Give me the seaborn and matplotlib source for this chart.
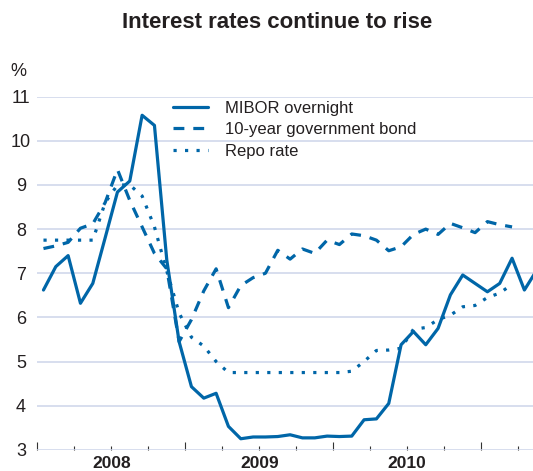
import numpy as np
import pandas as pd
import matplotlib
matplotlib.use("Agg")
import matplotlib.pyplot as plt
import matplotlib.transforms as mtransforms
import seaborn as sns

# Datos mensuales desde enero 2008 (indice de mes 0 = ene 2008)
mibor = [6.62, 7.15, 7.40, 6.32, 6.77, 7.80, 8.84, 9.09, 10.58, 10.35,
         7.30, 5.45, 4.43, 4.17, 4.28, 3.53, 3.25, 3.29, 3.29, 3.30,
         3.34, 3.27, 3.27, 3.31, 3.30, 3.31, 3.68, 3.70, 4.05, 5.38,
         5.68, 5.38, 5.75, 6.51, 6.96, 6.77, 6.58, 6.77, 7.34, 6.62, 7.07]
bono10 = [7.56, 7.62, 7.70, 8.02, 8.12, 8.60, 9.35, 8.65, 8.05, 7.45,
          7.10, 5.45, 5.95, 6.60, 7.10, 6.22, 6.72, 6.90, 7.00, 7.52,
          7.32, 7.55, 7.45, 7.75, 7.65, 7.89, 7.85, 7.75, 7.51, 7.60,
          7.88, 8.00, 7.88, 8.13, 8.03, 7.92, 8.17, 8.10, 8.05]
repo = [7.75, 7.75, 7.75, 7.75, 7.75, 8.60, 9.00, 9.00, 8.75, 8.05,
        7.05, 6.10, 5.55, 5.35, 5.00, 4.75, 4.75, 4.75, 4.75, 4.75,
        4.75, 4.75, 4.75, 4.75, 4.75, 4.78, 5.00, 5.25, 5.26, 5.30,
        5.73, 5.77, 5.95, 6.05, 6.24, 6.27, 6.45, 6.55, 6.75]
etiquetas = ["MIBOR overnight", "10-year government bond", "Repo rate"]
anios = ["2008", "2009", "2010"]
yticks = list(range(3, 12))

azul = "#0066a8"
gris_grid = "#cdd5ea"
texto = "#231f20"

sns.set_style("white")
plt.rcParams["font.family"] = ["Liberation Sans", "DejaVu Sans"]

fig = plt.figure(figsize=(5.33, 4.71), dpi=100)
W, H = 533, 471
ax = fig.add_axes([37.3 / W, 21 / H, (W - 37.3) / W + 0.01, 353.5 / H])

lw = 2.3
series = [(mibor, "-"), (bono10, (0, (3.4, 2.8))), (repo, (0, (1.0, 2.6)))]
handles = []
for (vals, ls), lab in zip(series, etiquetas):
    df = pd.DataFrame({"mes": np.arange(len(vals)) + 0.5, "valor": vals})
    sns.lineplot(data=df, x="mes", y="valor", ax=ax, color=azul, lw=lw,
                 linestyle=ls, label=lab, legend=False)

ax.set_xlim(0, 40.63)
ax.set_ylim(2.995, 11.005)
ax.set_yticks(yticks)
ax.set_xticks([0, 12, 24, 36])
ax.set_xticks([3, 6, 9, 15, 18, 21, 27, 30, 33, 39], minor=True)
ax.set_xticklabels([])
ax.set_xlabel("")
ax.set_ylabel("")
ax.grid(axis="y", color=gris_grid, lw=1.1)
ax.set_axisbelow(True)
for s in ax.spines.values():
    s.set_visible(False)

ax.tick_params(axis="y", length=0, pad=11.7, labelsize=13, labelcolor=texto)
for t in ax.get_yticklabels():
    t.set_horizontalalignment("center")
ax.tick_params(axis="x", which="major", direction="in", length=6, width=0.8,
               color="#333333", bottom=True)
ax.tick_params(axis="x", which="minor", direction="in", length=3, width=0.8,
               color="#333333", bottom=True)

trans = mtransforms.blended_transform_factory(ax.transData, ax.transAxes)
for i, a in enumerate(anios):
    ax.text(6 + 12 * i, -0.037, a, transform=trans, ha="center", va="center",
            fontsize=12.5, fontweight="bold", color=texto)

fig.text(18 / W, 1 - 72 / H, "%", ha="center", va="center", fontsize=13,
         color=texto)
fig.text(277 / W, 1 - 23 / H, "Interest rates continue to rise", ha="center",
         va="center", fontsize=16, fontweight="bold", color=texto)

leg = ax.legend(loc="upper left", bbox_to_anchor=(173 / W, 1 - 101 / H),
                bbox_transform=fig.transFigure, frameon=False, fontsize=12,
                handlelength=2.1, handletextpad=1.0, labelspacing=0.38,
                borderpad=0, borderaxespad=0)
for t in leg.get_texts():
    t.set_color(texto)

fig.savefig("out.png", dpi=100)
